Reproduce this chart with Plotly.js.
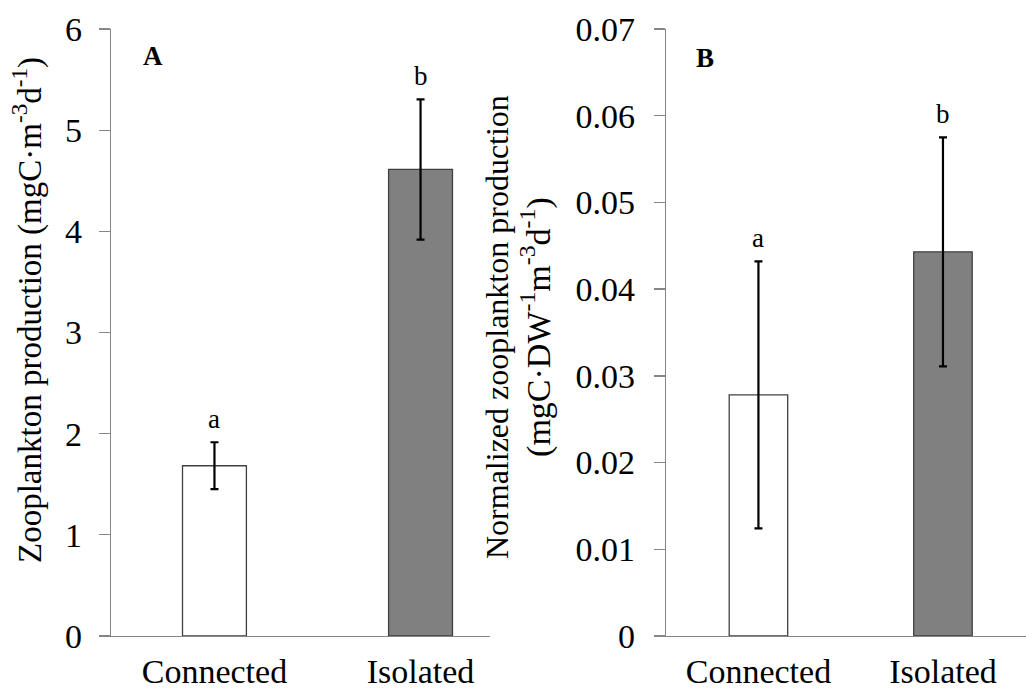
<!DOCTYPE html>
<html>
<head>
<meta charset="utf-8">
<script src="https://cdn.plot.ly/plotly-3.0.1.min.js"></script>
<style>html,body{margin:0;padding:0;background:#fff;}#chart{width:1026px;height:690px;}</style>
</head>
<body>
<div id="chart"></div>
<script>
// Categories
const categories = ["Connected", "Isolated"];
// Panel A: zooplankton production (mgC·m-3·d-1)
const prodMean = [1.683, 4.612];
const prodErr = [0.232, 0.693];
const prodLetters = ["a", "b"];
// Panel B: normalized production (mgC·DW-1·m-3·d-1)
const normMean = [0.0278, 0.0443];
const normErr = [0.0154, 0.0132];
const normLetters = ["a", "b"];
// Tick values
const ticksA = [0, 1, 2, 3, 4, 5, 6];
const ticksB = [0, 0.01, 0.02, 0.03, 0.04, 0.05, 0.06, 0.07];
const tickTextB = ["0", "0.01", "0.02", "0.03", "0.04", "0.05", "0.06", "0.07"];
// Titles
const titleA = "Zooplankton production (mgC·m<sup>-3</sup>d<sup>-1</sup>)";
const titleB = "Normalized zooplankton production<br><span style=\"font-size:34px\">(mgC·DW<sup>-1</sup>m<sup>-3</sup>d<sup>-1</sup>)</span>";

const barFill = ["#ffffff", "#808080"];
const serif = "Liberation Serif, Times New Roman, serif";

const traces = [
  {
    type: "bar", x: categories, y: prodMean, width: 0.31,
    xaxis: "x", yaxis: "y",
    marker: {color: barFill, line: {color: "#404040", width: 1.3}},
    error_y: {type: "data", array: prodErr, visible: true, color: "#000", thickness: 2.2, width: 4},
    hoverinfo: "skip", showlegend: false
  },
  {
    type: "bar", x: categories, y: normMean, width: 0.317,
    xaxis: "x2", yaxis: "y2",
    marker: {color: barFill, line: {color: "#404040", width: 1.3}},
    error_y: {type: "data", array: normErr, visible: true, color: "#000", thickness: 2.2, width: 4},
    hoverinfo: "skip", showlegend: false
  }
];

const annotations = [];
categories.forEach((c, i) => {
  annotations.push({xref: "x", yref: "y", x: c, y: prodMean[i] + prodErr[i], text: prodLetters[i],
    showarrow: false, yanchor: "bottom", yshift: 6, font: {family: serif, size: 27, color: "#000"}});
  annotations.push({xref: "x2", yref: "y2", x: c, y: normMean[i] + normErr[i], text: normLetters[i],
    showarrow: false, yanchor: "bottom", yshift: 6, font: {family: serif, size: 27, color: "#000"}});
});
annotations.push({xref: "paper", yref: "paper", x: 153/1026, y: 1 - 56/690, text: "<b>A</b>",
  showarrow: false, xanchor: "center", yanchor: "middle", font: {family: serif, size: 27, color: "#000"}});
annotations.push({xref: "paper", yref: "paper", x: 705/1026, y: 1 - 58/690, text: "<b>B</b>",
  showarrow: false, xanchor: "center", yanchor: "middle", font: {family: serif, size: 27, color: "#000"}});
// Y-axis titles
annotations.push({xref: "paper", yref: "paper", x: 27/1026, y: 1 - 310/690, text: titleA, textangle: -90,
  showarrow: false, xanchor: "center", yanchor: "middle", font: {family: serif, size: 33, color: "#000"}});
annotations.push({xref: "paper", yref: "paper", x: 519/1026, y: 1 - 327/690, text: titleB, textangle: -90,
  showarrow: false, xanchor: "center", yanchor: "middle", align: "center", font: {family: serif, size: 32, color: "#000"}});

const yDomain = [(690 - 636) / 690, (690 - 29) / 690];
const axisLine = "#868686";

const layout = {
  width: 1026, height: 690,
  margin: {l: 0, r: 0, t: 0, b: 0, pad: 0},
  paper_bgcolor: "#fff", plot_bgcolor: "#fff",
  font: {family: serif, color: "#000"},
  showlegend: false,
  xaxis: {
    domain: [111/1026, 490/1026], range: [-0.502, 1.337], type: "category",
    showline: true, linecolor: axisLine, linewidth: 1.3, ticks: "", showgrid: false, zeroline: false,
    tickfont: {family: serif, size: 34, color: "#000"}, ticklabelstandoff: 5, fixedrange: true
  },
  yaxis: {
    domain: yDomain, range: [0, 6], tickvals: ticksA,
    showline: true, linecolor: axisLine, linewidth: 1.3, ticks: "outside", ticklen: 11, tickcolor: axisLine, tickwidth: 1.3,
    showgrid: false, zeroline: false, ticklabelstandoff: 10,
    tickfont: {family: serif, size: 34, color: "#000"},
    fixedrange: true
  },
  xaxis2: {
    domain: [666/1026, 1], range: [-0.501, 1.45], type: "category", anchor: "y2",
    showline: true, linecolor: axisLine, linewidth: 1.3, ticks: "", showgrid: false, zeroline: false,
    tickfont: {family: serif, size: 34, color: "#000"}, ticklabelstandoff: 5, fixedrange: true
  },
  yaxis2: {
    domain: yDomain, range: [0, 0.07], tickvals: ticksB, ticktext: tickTextB, anchor: "x2",
    showline: true, linecolor: axisLine, linewidth: 1.3, ticks: "outside", ticklen: 11, tickcolor: axisLine, tickwidth: 1.3,
    showgrid: false, zeroline: false, ticklabelstandoff: 12,
    tickfont: {family: serif, size: 34, color: "#000"},
    fixedrange: true
  },
  annotations: annotations
};

Plotly.newPlot("chart", traces, layout, {displayModeBar: false, staticPlot: true});
</script>
</body>
</html>
